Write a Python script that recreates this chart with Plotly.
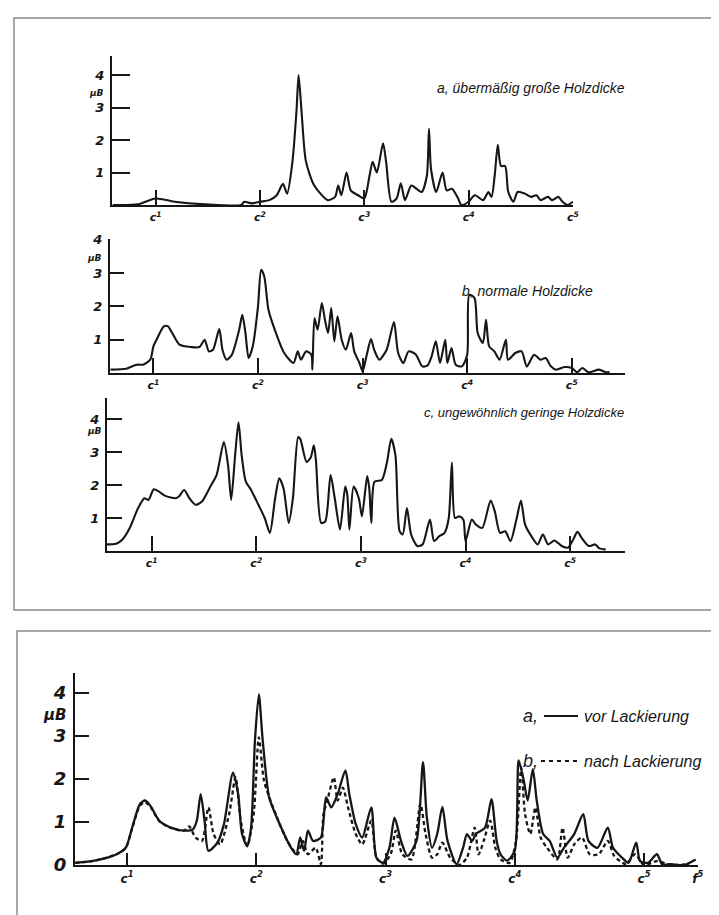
import plotly.graph_objects as go

W, H = 719, 915

# ---------------- data (x in octaves: 1 = c1, 2 = c2, ... ; y in microbar) ----------------
a_oct = [0.59, 0.83, 1.0, 1.18, 1.47, 1.82, 1.85, 1.92, 2.0, 2.09, 2.16, 2.22, 2.26, 2.31, 2.35, 2.37,
         2.40, 2.44, 2.52, 2.65, 2.72, 2.75, 2.78, 2.83, 2.87, 2.94, 3.0, 3.05, 3.08, 3.12, 3.18, 3.21,
         3.26, 3.31, 3.35, 3.39, 3.45, 3.5, 3.55, 3.6, 3.62, 3.64, 3.69, 3.75, 3.79, 3.84, 3.9, 3.93,
         4.0, 4.06, 4.14, 4.19, 4.22, 4.25, 4.28, 4.31, 4.35, 4.38, 4.43, 4.47, 4.54, 4.6, 4.65, 4.69,
         4.76, 4.8, 4.86, 4.9, 4.95, 5.0]
a_val = [0.0, 0.02, 0.2, 0.1, 0.02, 0.0, 0.1, 0.05, 0.1, 0.15, 0.3, 0.65, 0.35, 1.3, 2.9, 4.0,
         2.8, 1.35, 0.6, 0.15, 0.25, 0.6, 0.3, 1.0, 0.45, 0.3, 0.2, 0.9, 1.33, 1.0, 1.9, 1.3,
         0.1, 0.2, 0.67, 0.15, 0.6, 0.5, 0.4, 0.9, 2.35, 1.1, 0.4, 1.0, 0.45, 0.5, 0.2, 0.0,
         0.1, 0.3, 0.15, 0.4, 0.25, 0.9, 1.85, 1.2, 1.2, 0.4, 0.1, 0.4, 0.35, 0.25, 0.3, 0.15,
         0.25, 0.15, 0.25, 0.1, 0.0, 0.1]

b_oct = [0.59, 0.74, 0.84, 0.9, 0.97, 1.0, 1.03, 1.1, 1.14, 1.18, 1.25, 1.36, 1.44, 1.49, 1.53, 1.57,
         1.63, 1.66, 1.7, 1.75, 1.82, 1.85, 1.88, 1.91, 1.95, 2.0, 2.03, 2.06, 2.1, 2.16, 2.25, 2.34,
         2.38, 2.41, 2.46, 2.51, 2.52, 2.54, 2.57, 2.61, 2.64, 2.67, 2.7, 2.73, 2.76, 2.8, 2.84, 2.89,
         2.92, 2.97, 3.0, 3.04, 3.08, 3.11, 3.16, 3.23, 3.3, 3.34, 3.39, 3.44, 3.51, 3.57, 3.62, 3.66,
         3.7, 3.74, 3.79, 3.81, 3.85, 3.89, 3.95, 4.0, 4.02, 4.07, 4.1, 4.15, 4.18, 4.21, 4.26, 4.31,
         4.37, 4.39, 4.46, 4.52, 4.57, 4.64, 4.7, 4.75, 4.8, 4.85, 4.93, 5.0, 5.05, 5.1, 5.16, 5.26,
         5.33, 5.36]
b_val = [0.1, 0.13, 0.25, 0.25, 0.4, 0.8, 1.0, 1.4, 1.4, 1.2, 0.85, 0.78, 0.78, 1.0, 0.65, 0.7,
         1.32, 0.7, 0.4, 0.55, 1.3, 1.75, 1.2, 0.45, 0.8, 2.0, 3.1, 2.9, 1.9, 1.3, 0.6, 0.3,
         0.65, 0.4, 0.65, 0.55, 0.1, 1.65, 1.3, 2.1, 1.6, 1.2, 1.95, 0.95, 1.7, 1.0, 0.7, 1.2,
         0.65, 0.3, 0.05, 0.55, 1.02, 0.7, 0.4, 0.7, 1.53, 0.6, 0.3, 0.65, 0.55, 0.2, 0.22, 0.5,
         0.95, 0.3, 1.0, 0.3, 0.75, 0.25, 0.2, 0.55, 2.35, 2.25, 1.2, 0.9, 1.6, 0.8, 0.65, 0.4,
         1.0, 0.4, 0.6, 0.65, 0.2, 0.55, 0.4, 0.45, 0.2, 0.1, 0.18, 0.15, 0.02, 0.15, 0.02, 0.1,
         0.02, 0.03]

c_oct = [0.57, 0.66, 0.72, 0.79, 0.87, 0.93, 0.97, 1.02, 1.07, 1.13, 1.23, 1.26, 1.31, 1.36, 1.42, 1.48,
         1.56, 1.62, 1.69, 1.73, 1.76, 1.8, 1.83, 1.86, 1.9, 1.95, 2.02, 2.08, 2.13, 2.18, 2.22, 2.26,
         2.31, 2.35, 2.4, 2.42, 2.48, 2.52, 2.55, 2.57, 2.62, 2.66, 2.71, 2.75, 2.8, 2.85, 2.87, 2.89,
         2.93, 2.98, 3.01, 3.06, 3.08, 3.1, 3.13, 3.2, 3.25, 3.29, 3.33, 3.37, 3.4, 3.44, 3.48, 3.54,
         3.59, 3.66, 3.7, 3.75, 3.8, 3.84, 3.87, 3.9, 3.94, 3.98, 4.0, 4.06, 4.1, 4.16, 4.24, 4.28,
         4.33, 4.38, 4.43, 4.49, 4.53, 4.57, 4.64, 4.69, 4.74, 4.79, 4.85, 4.92, 4.98, 5.03, 5.07, 5.11,
         5.18, 5.24, 5.28, 5.34]
c_val = [0.2, 0.22, 0.35, 0.7, 1.3, 1.6, 1.55, 1.87, 1.8, 1.67, 1.6, 1.65, 1.85, 1.6, 1.4, 1.5,
         1.95, 2.3, 3.3, 2.6, 1.55, 3.0, 3.9, 2.9, 2.1, 1.85, 1.4, 1.0, 0.55, 1.6, 2.2, 1.9,
         0.85, 1.6, 3.45, 3.4, 2.7, 2.83, 3.2, 2.75, 0.85, 0.9, 2.3, 1.6, 0.65, 1.95, 1.7, 0.65,
         1.95, 1.6, 1.05, 2.27, 1.9, 0.85, 2.1, 2.15, 2.7, 3.4, 2.9, 0.6, 0.5, 1.3, 0.5, 0.15,
         0.2, 0.95, 0.3, 0.45, 0.55, 1.0, 2.68, 1.0, 1.05, 0.95, 0.3, 0.95, 0.8, 0.7, 1.53, 1.2,
         0.55, 0.6, 0.3, 1.0, 1.53, 0.8, 0.4, 0.2, 0.5, 0.2, 0.32, 0.15, 0.1, 0.35, 0.58, 0.4,
         0.15, 0.2, 0.08, 0.05]

vor_oct = [0.6, 0.75, 0.92, 0.99, 1.04, 1.1, 1.14, 1.18, 1.25, 1.34, 1.44, 1.51, 1.54, 1.57, 1.6, 1.63,
           1.7, 1.75, 1.82, 1.86, 1.89, 1.93, 1.96, 1.99, 2.02, 2.05, 2.1, 2.17, 2.27, 2.31, 2.34, 2.37,
           2.4, 2.44, 2.5, 2.54, 2.58, 2.63, 2.69, 2.72, 2.77, 2.82, 2.89, 2.93, 2.98, 3.03, 3.07, 3.12,
           3.17, 3.24, 3.29, 3.32, 3.36, 3.4, 3.44, 3.48, 3.55, 3.6, 3.63, 3.67, 3.7, 3.77, 3.82, 3.86,
           3.89, 3.94, 4.0, 4.03, 4.07, 4.1, 4.14, 4.17, 4.22, 4.27, 4.33, 4.38, 4.46, 4.53, 4.57, 4.64,
           4.72, 4.76, 4.83, 4.88, 4.94, 4.97, 5.03, 5.1, 5.14, 5.21, 5.31, 5.4]
vor_val = [0.05, 0.1, 0.25, 0.4, 0.87, 1.42, 1.5, 1.38, 1.03, 0.87, 0.8, 0.83, 1.03, 1.65, 1.03, 0.33,
           0.52, 0.95, 2.15, 1.65, 0.72, 0.44, 0.87, 2.9, 3.97, 2.9, 1.57, 1.03, 0.4, 0.25, 0.64, 0.33,
           0.8, 0.56, 0.64, 1.57, 1.34, 1.65, 2.2, 1.65, 0.95, 0.64, 1.34, 0.17, 0.05, 0.4, 1.1, 0.56,
           0.21, 0.56, 2.39, 1.1, 0.4, 0.72, 1.35, 0.56, 0.02, 0.4, 0.72, 0.56, 0.72, 0.87, 1.53, 0.56,
           0.25, 0.1, 0.33, 2.43, 1.96, 1.5, 2.23, 1.5, 0.72, 0.56, 0.17, 0.4, 0.72, 1.18, 0.56, 0.4,
           0.87, 0.4, 0.17, 0.05, 0.52, 0.09, 0.05, 0.25, 0.02, 0.02, 0.0, 0.13]

nach_oct = [0.6, 0.75, 0.92, 0.99, 1.04, 1.1, 1.14, 1.18, 1.25, 1.34, 1.44, 1.48, 1.53, 1.58, 1.63, 1.67,
            1.72, 1.79, 1.84, 1.88, 1.93, 1.98, 2.02, 2.06, 2.12, 2.24, 2.32, 2.36, 2.4, 2.46, 2.5, 2.52,
            2.55, 2.6, 2.63, 2.67, 2.71, 2.77, 2.82, 2.89, 2.93, 2.98, 3.04, 3.08, 3.13, 3.2, 3.27, 3.31,
            3.36, 3.4, 3.44, 3.5, 3.57, 3.63, 3.69, 3.72, 3.76, 3.81, 3.85, 3.89, 3.96, 4.01, 4.05, 4.08,
            4.12, 4.16, 4.2, 4.25, 4.33, 4.37, 4.41, 4.46, 4.52, 4.58, 4.65, 4.72, 4.77, 4.86, 4.93, 5.0,
            5.1, 5.21, 5.35]
nach_val = [0.05, 0.1, 0.25, 0.4, 0.85, 1.38, 1.46, 1.36, 1.02, 0.86, 0.8, 0.9, 0.64, 0.56, 1.34, 0.72,
            0.48, 1.18, 2.04, 1.03, 0.44, 1.18, 2.97, 1.96, 1.42, 0.56, 0.25, 0.56, 0.25, 0.4, 0.02, 1.18,
            1.5, 2.04, 1.5, 1.8, 1.34, 0.72, 0.48, 1.03, 0.17, 0.03, 0.25, 0.8, 0.25, 0.13, 1.42, 0.72,
            0.17, 0.25, 0.52, 0.17, 0.0, 0.17, 0.87, 0.25, 0.56, 1.03, 0.4, 0.13, 0.05, 0.56, 2.27, 1.18,
            0.72, 1.34, 0.64, 0.4, 0.13, 0.87, 0.17, 0.48, 0.64, 0.25, 0.25, 0.56, 0.21, 0.02, 0.25, 0.0,
            0.09, 0.0, 0.02]

top_xticks = [1, 2, 3, 4, 5]
top_xlabels = ["c<sup>1</sup>", "c<sup>2</sup>", "c<sup>3</sup>", "c<sup>4</sup>", "c<sup>5</sup>"]
bot_xticks = [1, 2, 3, 4, 5, 5.417]
bot_xlabels = ["c<sup>1</sup>", "c<sup>2</sup>", "c<sup>3</sup>", "c<sup>4</sup>", "c<sup>5</sup>", "f<sup>5</sup>"]
top_yticks = [1, 2, 3, 4]
bot_yticks = [0, 1, 2, 3, 4]

titles = ["a, übermäßig große Holzdicke", "b, normale Holzdicke", "c, ungewöhnlich geringe Holzdicke"]
legend_a = "vor Lackierung"
legend_b = "nach Lackierung"

# ---------------- layout geometry (pixels) ----------------
INK = "#161616"
panels = [
    dict(L=104, R=565, T=48, B=197, x0=147.7, s=104.3, u=32.5, ylen=18, yfs=13, xfs=11),
    dict(L=102, R=617, T=231, B=365, x0=145.4, s=104.6, u=33.3, ylen=14, yfs=13, xfs=11),
    dict(L=99, R=617, T=390, B=543, x0=143.7, s=104.6, u=33.0, ylen=15, yfs=13, xfs=11),
    dict(L=67, R=690, T=665, B=857, x0=119.0, s=129.25, u=43.0, ylen=14, yfs=18, xfs=12),
]

fig = go.Figure()
series = [(a_oct, a_val, "solid", 0), (b_oct, b_val, "solid", 1), (c_oct, c_val, "solid", 2),
          (vor_oct, vor_val, "solid", 3), (nach_oct, nach_val, "4px,3px", 3)]
for xs, ys, dash, pi in series:
    sfx = "" if pi == 0 else str(pi + 1)
    fig.add_trace(go.Scatter(x=xs, y=ys, mode="lines", xaxis="x" + sfx, yaxis="y" + sfx,
                             line=dict(color=INK, width=2.1 if pi < 3 else 2.3, dash=dash,
                                       shape="spline", smoothing=0.7),
                             showlegend=False, hoverinfo="skip"))

layout = dict(width=W, height=H, margin=dict(l=0, r=0, t=0, b=0), autosize=False,
              paper_bgcolor="white", plot_bgcolor="rgba(0,0,0,0)", showlegend=False)
for i, p in enumerate(panels):
    sfx = "" if i == 0 else str(i + 1)
    xr = [1 + (p["L"] - p["x0"]) / p["s"], 1 + (p["R"] - p["x0"]) / p["s"]]
    yr = [0, (p["B"] - p["T"]) / p["u"]]
    bottom = i == 3
    layout["xaxis" + sfx] = dict(
        domain=[p["L"] / W, p["R"] / W], range=xr, anchor="y" + sfx,
        showline=True, linecolor=INK, linewidth=2.2, showgrid=False, zeroline=False,
        ticks="inside", ticklen=15 if not bottom else 12, tickwidth=1.6, tickcolor=INK,
        tickvals=bot_xticks if bottom else top_xticks,
        ticktext=bot_xlabels if bottom else top_xlabels,
        tickfont=dict(family="DejaVu Sans", size=p["xfs"], color=INK, weight="bold", style="italic"),
        ticklabelstandoff=1, automargin=False, fixedrange=True)
    layout["yaxis" + sfx] = dict(
        domain=[1 - p["B"] / H, 1 - p["T"] / H], range=yr, anchor="x" + sfx,
        showline=True, linecolor=INK, linewidth=2.2, showgrid=False, zeroline=False,
        ticks="inside", ticklen=p["ylen"], tickwidth=2.2, tickcolor=INK,
        tickvals=bot_yticks if bottom else top_yticks,
        ticktext=[str(v) for v in (bot_yticks if bottom else top_yticks)],
        tickfont=dict(family="DejaVu Sans", size=p["yfs"], color=INK, weight="bold", style="italic"),
        ticklabelstandoff=3, automargin=False, fixedrange=True)
fig.update_layout(**layout)


def px(x):
    return x / W


def py(y):
    return 1 - y / H


ann = []
title_pos = [(427, 80, 14), (452, 283, 14), (414, 404, 13)]
for t, (x, y, fs) in zip(titles, title_pos):
    ann.append(dict(x=px(x), y=py(y), xref="paper", yref="paper", text=t, showarrow=False,
                    xanchor="left", yanchor="middle",
                    font=dict(family="Liberation Sans", size=fs, color=INK, style="italic")))
for (x, y, fs) in [(88, 85, 9), (86, 250, 9), (86, 423, 9), (46, 707, 15)]:
    ann.append(dict(x=px(x), y=py(y), xref="paper", yref="paper", text="μB", showarrow=False,
                    xanchor="center", yanchor="middle",
                    font=dict(family="DejaVu Sans", size=fs, color=INK, weight="bold", style="italic")))
# legend of the lower chart
for lab, txt, y in [("a,", legend_a, 708), ("b,", legend_b, 753)]:
    ann.append(dict(x=px(513), y=py(y), xref="paper", yref="paper", text=lab, showarrow=False,
                    xanchor="left", yanchor="middle",
                    font=dict(family="Liberation Sans", size=18, color=INK, style="italic")))
    ann.append(dict(x=px(574), y=py(y), xref="paper", yref="paper", text=txt, showarrow=False,
                    xanchor="left", yanchor="middle",
                    font=dict(family="Liberation Sans", size=16, color=INK, style="italic")))

shapes = [
    dict(type="rect", xref="paper", yref="paper", x0=px(6), x1=px(722), y0=py(602), y1=py(10),
         line=dict(color="#8a8a8a", width=1.5)),
    dict(type="rect", xref="paper", yref="paper", x0=px(9), x1=px(722), y0=py(912), y1=py(623),
         line=dict(color="#8a8a8a", width=1.5)),
    dict(type="line", xref="paper", yref="paper", x0=px(536), x1=px(570), y0=py(708), y1=py(708),
         line=dict(color=INK, width=2)),
    dict(type="line", xref="paper", yref="paper", x0=px(533), x1=px(570), y0=py(753), y1=py(753),
         line=dict(color=INK, width=2, dash="4px,4px")),
]
fig.update_layout(annotations=ann, shapes=shapes)

fig.write_html("out.html")
